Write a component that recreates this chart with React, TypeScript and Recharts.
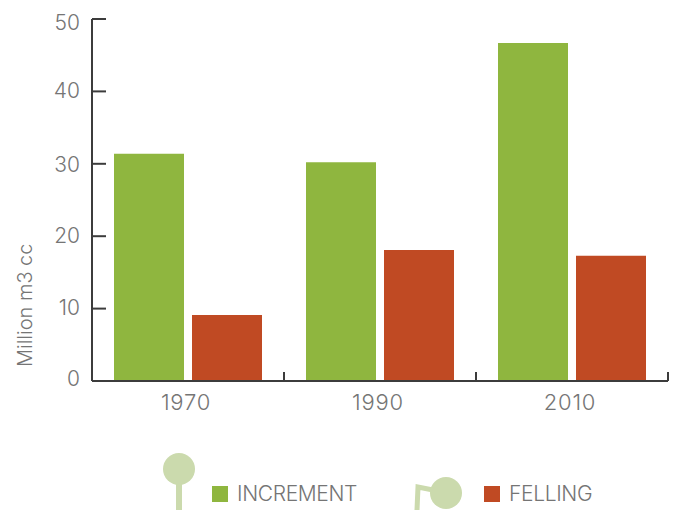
import React from 'react';
import { BarChart, Bar, XAxis, YAxis, Legend } from 'recharts';

const years = ['1970', '1990', '2010'];
const increment = [31.4, 30.2, 46.7];
const felling = [9.1, 18.1, 17.3];
const yTicks = [0, 10, 20, 30, 40, 50];

const data = years.map((year, i) => ({
  year,
  INCREMENT: increment[i],
  FELLING: felling[i],
}));

const FONT = 'Inter, Roboto, sans-serif';
const GREEN = '#8FB63F';
const RED = '#C04A23';
const PALE = '#CBDAAD';
const AXIS = '#3C3C3C';
const TEXT = '#757575';
const BAND = 192;

// tick labels sit slightly off their tick marks in the original
const labelNudge: Record<number, number> = { 0: -3, 10: -2, 20: -1, 30: 0, 40: -1, 50: 3 };

const YTick = ({ x, y, payload }: any) => (
  <g>
    <line x1={x} x2={x + 14} y1={y} y2={y} stroke={AXIS} strokeWidth={2} />
    <text
      x={x - 12}
      y={y + 8 + (labelNudge[payload.value] || 0)}
      textAnchor="end"
      fontFamily={FONT}
      fontWeight={300}
      fontSize={21}
      fill={TEXT}
    >
      {payload.value}
    </text>
  </g>
);

const XTick = ({ x, y, payload }: any) => (
  <g>
    <line x1={x + BAND / 2} x2={x + BAND / 2} y1={y - 9} y2={y} stroke={AXIS} strokeWidth={2} />
    <text
      x={x - 2}
      y={y + 29}
      textAnchor="middle"
      fontFamily={FONT}
      fontWeight={300}
      fontSize={22}
      letterSpacing={0.8}
      fill={TEXT}
    >
      {payload.value}
    </text>
  </g>
);

const legendLeft: Record<string, number> = { INCREMENT: 212, FELLING: 484 };

const LegendItems = ({ payload }: any) => (
  <div>
    {(payload || []).map((item: any) => (
      <div
        key={item.value}
        style={{ position: 'absolute', left: legendLeft[item.value], top: 0, display: 'flex', alignItems: 'center' }}
      >
        <span style={{ width: 16, height: 16, background: item.color, marginRight: 9 }} />
        <span style={{ fontFamily: FONT, fontWeight: 300, fontSize: 21, color: TEXT, letterSpacing: -0.35 }}>
          {item.value}
        </span>
      </div>
    ))}
  </div>
);

export default function App() {
  return (
    <div style={{ position: 'absolute', left: 0, top: 0, width: 675, height: 510, overflow: 'hidden', background: '#fff' }}>
      <BarChart
        width={675}
        height={510}
        data={data}
        margin={{ top: 19, right: 7, bottom: 0, left: 0 }}
        barCategoryGap={22}
        barGap={8}
      >
        <XAxis
          dataKey="year"
          height={103}
          tickSize={0}
          tickMargin={0}
          tick={<XTick />}
          axisLine={{ stroke: AXIS, strokeWidth: 2 }}
          interval={0}
        />
        <YAxis
          width={92}
          domain={[0, 50]}
          ticks={yTicks}
          tickSize={0}
          tickMargin={0}
          tick={<YTick />}
          axisLine={{ stroke: AXIS, strokeWidth: 2 }}
          label={{
            value: 'Million m3 cc',
            angle: -90,
            position: 'insideBottomLeft',
            offset: 0,
            dx: 32,
            dy: -14,
            style: { fontFamily: FONT, fontWeight: 300, fontSize: 20, fill: TEXT },
          }}
        />
        <Bar dataKey="INCREMENT" fill={GREEN} isAnimationActive={false} />
        <Bar dataKey="FELLING" fill={RED} isAnimationActive={false} />
        <Legend
          content={<LegendItems />}
          wrapperStyle={{ position: 'absolute', left: 0, top: 481, width: 675, height: 26 }}
        />
      </BarChart>
      <svg width={675} height={510} style={{ position: 'absolute', left: 0, top: 0, pointerEvents: 'none' }}>
        <circle cx={179} cy={469} r={16} fill={PALE} />
        <rect x={176} y={484} width={6} height={26} fill={PALE} />
        <circle cx={446} cy={493} r={16} fill={PALE} />
        <path d="M417 510 L418 487 L433 490" fill="none" stroke={PALE} strokeWidth={5} />
      </svg>
    </div>
  );
}
